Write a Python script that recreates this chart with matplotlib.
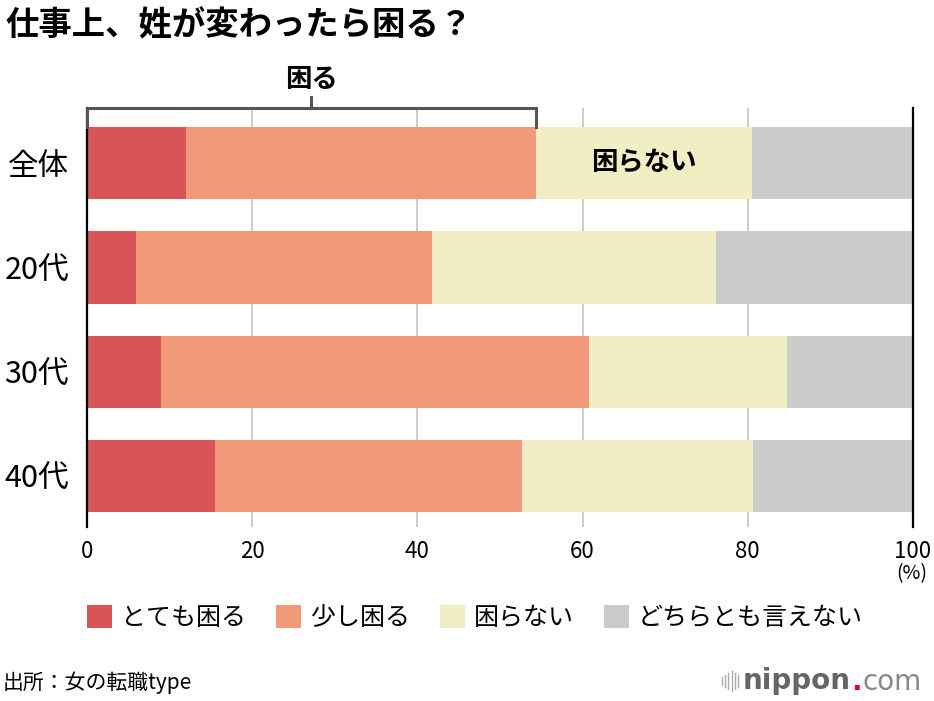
import matplotlib
matplotlib.use("Agg")
import matplotlib.pyplot as plt
from matplotlib.patches import Patch
import numpy as np

plt.rcParams["font.family"] = ["Noto Sans CJK JP", "DejaVu Sans"]

# データ(%)
categories = ["全体", "20代", "30代", "40代"]
series_names = ["とても困る", "少し困る", "困らない", "どちらとも言えない"]
totemo = [12.0, 5.9, 9.0, 15.5]
sukoshi = [42.3, 35.9, 51.8, 37.2]
komaranai = [26.2, 34.4, 23.9, 27.9]
dochira = [19.5, 23.8, 15.3, 19.4]
x_ticks = [0, 20, 40, 60, 80, 100]

colors = ["#D95456", "#F19A7A", "#F2EEC4", "#CBCBCB"]

W, H = 934, 701
fig = plt.figure(figsize=(W / 100, H / 100), dpi=100)
ax = fig.add_axes([87 / W, (H - 527) / H, (913 - 87) / W, (527 - 108) / H])

y = np.arange(len(categories))
left = np.zeros(len(categories))
for vals, col in zip([totemo, sukoshi, komaranai, dochira], colors):
    ax.barh(y, vals, left=left, height=0.69, color=col, zorder=2)
    left += np.array(vals)

ax.set_xlim(0, 100)
ax.set_ylim(3.484, -0.527)
ax.set_xticks(x_ticks)
ax.set_xticklabels([str(t) for t in x_ticks], fontsize=16)
ax.set_yticks(y)
ax.set_yticklabels(categories, fontsize=22)
ax.tick_params(axis="x", length=0, pad=9)
ax.tick_params(axis="y", length=0, pad=13)
for t in x_ticks[1:-1]:
    ax.axvline(t, color="#C8C8C8", lw=1.3, zorder=1)
for s in ["top", "bottom"]:
    ax.spines[s].set_visible(False)
for s in ["left", "right"]:
    ax.spines[s].set_linewidth(1.6)
    ax.spines[s].set_color("black")
    ax.spines[s].set_zorder(3)

# 「困る」のブラケット
komaru_total = totemo[0] + sukoshi[0]
bc = "#555555"
ax.plot([0, 0, komaru_total, komaru_total], [-0.345, -0.527, -0.527, -0.345],
        color=bc, lw=2.2, clip_on=False, zorder=4, solid_joinstyle="miter")
ax.plot([komaru_total / 2] * 2, [-0.527, -0.632], color=bc, lw=2.2, clip_on=False)
ax.text(komaru_total / 2, -0.80, "困る", ha="center", va="center",
        fontsize=19, fontweight="bold")

# 「困らない」ラベル
ax.text(komaru_total + komaranai[0] / 2, 0, "困らない", ha="center", va="center",
        fontsize=19, fontweight="bold", zorder=5)

fig.text(912 / W, 1 - 574 / H, "(%)", ha="center", va="center", fontsize=14)

fig.text(5 / W, 1 - 26 / H, "仕事上、姓が変わったら困る？", fontsize=24,
         fontweight="bold", va="center", ha="left")

handles = [Patch(facecolor=c, edgecolor="none") for c in colors]
fig.legend(handles, series_names, loc="center", bbox_to_anchor=(475 / W, 1 - 618 / H),
           ncol=4, frameon=False, fontsize=18, handlelength=1.0, handleheight=1.0,
           handletextpad=0.35, columnspacing=1.2)

fig.text(3 / W, 1 - 683 / H, "出所：女の転職type", fontsize=15, va="center", ha="left")

# nippon.com ロゴ
logo_y = 1 - 681 / H
for i, hgt in enumerate([8, 12, 16, 20, 16, 12]):
    xx = (722 + i * 3.2) / W
    fig.add_artist(plt.Line2D([xx, xx], [logo_y - hgt / 2 / H, logo_y + hgt / 2 / H],
                              color="#AAAAAA", lw=1.0))
t1 = fig.text(743 / W, logo_y, "nippon", fontsize=20, fontweight="bold", color="#666666",
              va="center", ha="left", family="DejaVu Sans")
t2 = fig.text(0, 0, ".", fontsize=20, fontweight="bold", color="#E0002A",
              va="baseline", ha="left", family="DejaVu Sans")
t3 = fig.text(0, 0, "com", fontsize=20, color="#888888",
              va="baseline", ha="left", family="DejaVu Sans")
fig.canvas.draw()
r = fig.canvas.get_renderer()
bb1 = t1.get_window_extent(r)
base_y = bb1.y0 + 5.5  # approx baseline (descender of p)
t2.set_position((bb1.x1 / W + 0.5 / W, base_y / H))
bb2 = t2.get_window_extent(r)
t3.set_position((bb2.x1 / W, base_y / H))

fig.savefig("out.png", dpi=100, facecolor="white")
